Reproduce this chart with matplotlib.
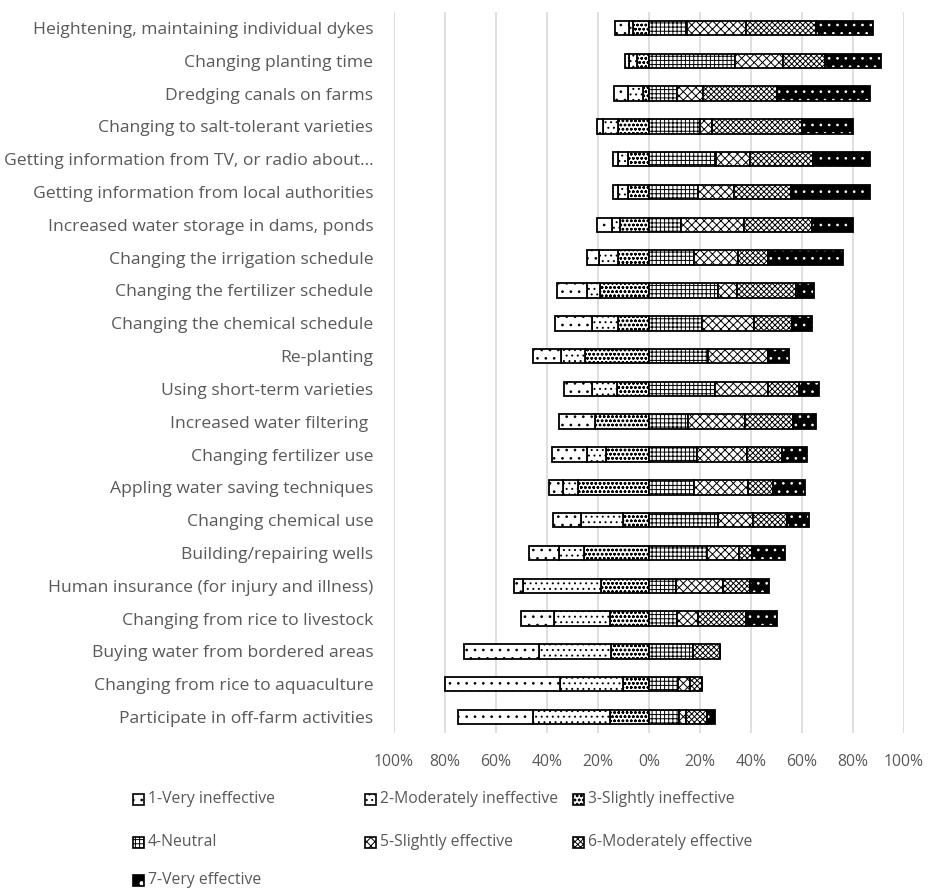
import matplotlib
matplotlib.use("Agg")
import matplotlib.pyplot as plt
from matplotlib.patches import Rectangle
import numpy as np

plt.rcParams['font.family'] = ['Open Sans', 'DejaVu Sans']
plt.rcParams['hatch.linewidth'] = 0.7

categories = [
    "Heightening, maintaining individual dykes",
    "Changing planting time",
    "Dredging canals on farms",
    "Changing to salt-tolerant varieties",
    "Getting information from TV, or radio about\u2026",
    "Getting information from local authorities",
    "Increased water storage in dams, ponds",
    "Changing the irrigation schedule",
    "Changing the fertilizer schedule",
    "Changing the chemical schedule",
    "Re-planting",
    "Using short-term varieties",
    "Increased water filtering ",
    "Changing fertilizer use",
    "Appling water saving techniques",
    "Changing chemical use",
    "Building/repairing wells",
    "Human insurance (for injury and illness)",
    "Changing from rice to livestock",
    "Buying water from bordered areas",
    "Changing from rice to aquaculture",
    "Participate in off-farm activities",
]

very_ineffective = [5.5, 1.6, 5.5, 2.4, 2.0, 2.0, 5.9, 4.7, 11.8, 14.5, 11.0, 11.0, 14.1, 13.7, 5.5, 11.0, 11.8, 3.5, 12.9, 29.4, 45.1, 29.4]
moderately_ineffective = [1.6, 3.1, 5.9, 5.9, 3.9, 3.9, 3.1, 7.5, 5.1, 10.2, 9.4, 9.8, 0.0, 7.5, 5.9, 16.5, 9.8, 30.6, 22.0, 28.2, 24.7, 30.2]
slightly_ineffective = [6.3, 4.7, 2.4, 12.2, 8.2, 8.2, 11.4, 12.2, 19.2, 12.2, 25.1, 12.5, 21.2, 16.9, 27.8, 10.2, 25.5, 18.8, 15.3, 14.9, 10.2, 15.3]
neutral = [14.9, 33.7, 11.0, 20.0, 26.3, 19.2, 12.5, 17.6, 27.1, 20.8, 23.1, 25.9, 15.3, 18.8, 17.6, 27.1, 22.7, 10.6, 11.0, 17.3, 11.4, 11.8]
slightly_effective = [23.1, 18.8, 10.2, 4.7, 13.3, 14.1, 24.7, 17.3, 7.5, 20.4, 23.5, 20.8, 22.4, 19.6, 21.2, 13.7, 12.5, 18.4, 8.2, 0.0, 4.7, 2.7]
moderately_effective = [27.5, 16.5, 29.0, 35.3, 24.7, 22.4, 26.7, 11.8, 23.1, 14.9, 0.0, 12.2, 18.8, 13.7, 9.8, 13.3, 5.1, 10.6, 18.8, 10.6, 4.7, 8.2]
very_effective = [22.4, 22.0, 36.5, 20.0, 22.4, 31.0, 16.1, 29.4, 7.1, 7.8, 8.2, 7.8, 9.0, 9.8, 12.5, 8.6, 12.9, 7.5, 12.2, 0.0, 0.0, 3.1]

legend_labels = ["1-Very ineffective", "2-Moderately ineffective", "3-Slightly ineffective",
                 "4-Neutral", "5-Slightly effective", "6-Moderately effective", "7-Very effective"]
tick_values = [-100, -80, -60, -40, -20, 0, 20, 40, 60, 80, 100]

W, H = 930, 892
fig = plt.figure(figsize=(W / 100, H / 100), dpi=100)
ax = fig.add_axes([394 / W, 1 - 733.4 / H, (904 - 394) / W, (733.4 - 11.6) / H])

y = np.arange(len(categories))
s1 = np.array(very_ineffective)
s2 = np.array(moderately_ineffective)
s3 = np.array(slightly_ineffective)
s4 = np.array(neutral)
s5 = np.array(slightly_effective)
s6 = np.array(moderately_effective)
s7 = np.array(very_effective)

hatches = ['..', '...', 'oooo', '++++', 'xxxx', 'xxxxxx', '..']
bh = 0.44
ec = 'black'
lw = 1.3
fs = 11.3
fs_cat = 12.6

neg_segments = [(s3, -s3), (s2, -(s3 + s2)), (s1, -(s3 + s2 + s1))]
for i, (w, left) in enumerate(neg_segments):
    idx = 2 - i
    ax.barh(y, w, left=left, height=bh, color='white', edgecolor=ec, hatch=hatches[idx], linewidth=lw, zorder=3)

pos = [s4, s5, s6]
left = np.zeros(len(categories))
for i, w in enumerate(pos):
    ax.barh(y, w, left=left, height=bh, color='white', edgecolor=ec, hatch=hatches[3 + i], linewidth=lw, zorder=3)
    left = left + w
ax.barh(y, s7, left=left, height=bh, color='black', edgecolor='white', hatch=hatches[6], linewidth=0, zorder=3)
ax.barh(y, s7, left=left, height=bh, fill=False, edgecolor=ec, linewidth=lw, zorder=4)

ax.set_xlim(-100, 100)
ax.set_ylim(len(categories) - 0.5, -0.5)
ax.set_xticks(tick_values)
ax.set_xticklabels([f"{abs(v)}%" for v in tick_values])
ax.set_yticks(y)
ax.set_yticklabels(categories)
ax.tick_params(axis='both', length=0, labelcolor='#595959')
ax.tick_params(axis='x', pad=15, labelsize=fs)
ax.tick_params(axis='y', pad=15, labelsize=fs_cat)
ax.grid(axis='x', color='#d9d9d9', linewidth=1.2, zorder=0)
ax.set_axisbelow(True)
for sp in ax.spines.values():
    sp.set_visible(False)

# manual legend (3 columns, row-wise)
col_x = [133, 365, 573]
row_y = [799, 842, 880]
sq = 11
for k, lab in enumerate(legend_labels):
    r, c = divmod(k, 3)
    x0, yc = col_x[c], row_y[r]
    if k == 6:
        fig.add_artist(Rectangle((x0 / W, (H - yc - sq / 2) / H), sq / W, sq / H,
                                 transform=fig.transFigure, facecolor='black', edgecolor='white',
                                 hatch='.', linewidth=0))
        fig.add_artist(Rectangle((x0 / W, (H - yc - sq / 2) / H), sq / W, sq / H,
                                 transform=fig.transFigure, fill=False, edgecolor='black', linewidth=1.2))
    else:
        fig.add_artist(Rectangle((x0 / W, (H - yc - sq / 2) / H), sq / W, sq / H,
                                 transform=fig.transFigure, facecolor='white', edgecolor='black',
                                 hatch=hatches[k], linewidth=1.2))
    fig.text((x0 + sq + 4) / W, (H - yc) / H, lab, fontsize=fs, color='#595959',
             ha='left', va='center')

fig.savefig("out.png", dpi=100)
